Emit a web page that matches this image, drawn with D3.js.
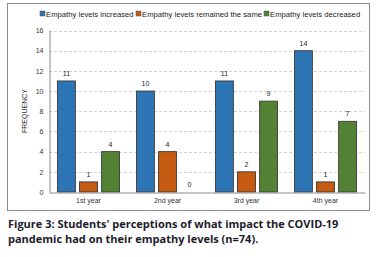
<!DOCTYPE html>
<html><head><meta charset="utf-8">
<script src="https://cdn.jsdelivr.net/npm/d3@7"></script>
<style>body{margin:0;background:#fff}svg{display:block}</style>
</head><body>
<script>
const categories = ["1st year","2nd year","3rd year","4th year"];
const seriesNames = ["Empathy levels increased","Empathy levels remained the same","Empathy levels decreased"];
const increased = [11,10,11,14];
const same = [1,4,2,1];
const decreased = [4,0,9,7];
const yTicks = [0,2,4,6,8,10,12,14,16];
const colors = ["#2e75b6","#c55a11","#548235"];
const series = [increased, same, decreased];

const W=381,H=257;
const svg=d3.select("body").append("svg").attr("width",W).attr("height",H);
svg.append("rect").attr("x",7.5).attr("y",3.5).attr("width",362).attr("height",207).attr("fill","#fff").attr("stroke","#8c8c8c").attr("stroke-width",1);

const x=d3.scaleBand().domain(categories).range([49,365]).paddingInner(0).paddingOuter(0);
const y=d3.scaleLinear().domain([0,16]).range([192,30.5]);
const inner=d3.scaleBand().domain(d3.range(3)).range([8.5,x.bandwidth()-8.5]).paddingInner(0.19);

// grid
svg.append("g").selectAll("line").data(yTicks.filter(d=>d>0)).join("line")
 .attr("x1",49).attr("x2",365).attr("y1",d=>Math.round(y(d))+0.5).attr("y2",d=>Math.round(y(d))+0.5)
 .attr("stroke","#c8c8c8").attr("stroke-dasharray","3,2").attr("stroke-width",0.8);

const yAxis=d3.axisLeft(y).tickValues(yTicks).tickSize(0).tickPadding(6);
const gy=svg.append("g").attr("transform","translate(49.5,0)").call(yAxis);
gy.select(".domain").attr("stroke","#8c8c8c");
gy.selectAll("text").attr("font-family","Liberation Sans, Arial, sans-serif").attr("font-size",7).attr("fill","#333");

// bars
categories.forEach((c,i)=>{
  series.forEach((s,j)=>{
    const v=s[i];
    const bx=x(c)+inner(j);
    if(v>0){
      svg.append("rect").attr("x",bx).attr("y",y(v)).attr("width",inner.bandwidth()).attr("height",y(0)-y(v))
        .attr("fill",colors[j]).attr("stroke","#3a3a3a").attr("stroke-width",0.9);
    }
    svg.append("text").attr("x",bx+inner.bandwidth()/2).attr("y",y(v)-5).attr("text-anchor","middle")
      .attr("font-family","Liberation Sans, Arial, sans-serif").attr("font-size",7).attr("fill","#222").text(v);
  });
});

const xAxis=d3.axisBottom(x).tickSize(0).tickPadding(6);
const gx=svg.append("g").attr("transform","translate(0,192.5)").call(xAxis);
gx.select(".domain").attr("stroke","#8c8c8c");
gx.selectAll("text").attr("font-family","Liberation Sans, Arial, sans-serif").attr("font-size",7).attr("fill","#333");

// y title
svg.append("text").attr("transform","translate(27,111) rotate(-90)").attr("text-anchor","middle")
 .attr("font-family","Liberation Sans, Arial, sans-serif").attr("font-size",7).attr("fill","#333").text("FREQUENCY");

// legend
const legX=[40,136,264];
seriesNames.forEach((n,j)=>{
  const g=svg.append("g").attr("transform",`translate(${legX[j]},14)`);
  g.append("rect").attr("x",0).attr("y",-3).attr("width",5).attr("height",5).attr("fill",colors[j]).attr("stroke","#555").attr("stroke-width",0.5);
  g.append("text").attr("x",6).attr("y",2.5).attr("font-family","Liberation Sans, Arial, sans-serif").attr("font-size",7.7).attr("fill","#222").text(n);
});

// caption
const cap=["Figure 3: Students' perceptions of what impact the COVID-19","pandemic had on their empathy levels (n=74)."];
cap.forEach((t,i)=>{
  svg.append("text").attr("x",8).attr("y",228+i*15).attr("font-family","Open Sans, sans-serif").attr("font-weight",700)
   .attr("font-size",11).attr("fill","#1c1c2a").text(t);
});
</script>
</body></html>
